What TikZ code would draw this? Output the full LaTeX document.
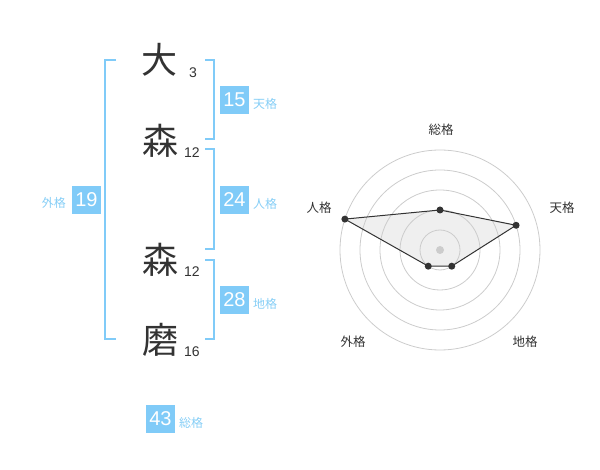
\documentclass[tikz,border=0pt]{standalone}
\usepackage{fontspec}
\setmainfont{Liberation Sans}
\newfontfamily\cjk{Noto Sans CJK JP}
\definecolor{sky}{HTML}{80CBF8}
\definecolor{skytxt}{HTML}{86CEF6}
\definecolor{ink}{HTML}{333333}
\definecolor{gridc}{HTML}{CCCCCC}
\definecolor{polyc}{HTML}{EFEFEF}
\tikzset{
  kanji/.style={inner sep=0pt, text=ink, font=\fontsize{36}{36}\selectfont\cjk},
  strokes/.style={inner sep=0pt, text=ink, font=\fontsize{14}{14}\selectfont},
  numbox/.style={fill=sky, text=white, inner sep=0pt, minimum width=29pt, minimum height=28pt, font=\fontsize{20}{20}\selectfont},
  kaku/.style={inner sep=0pt, text=skytxt, font=\fontsize{12}{12}\selectfont\cjk},
  bracket/.style={draw=sky, line width=2pt},
  ring/.style={draw=gridc, line width=0.8pt},
  edge/.style={draw=ink, line width=1pt},
  dot/.style={circle, fill=ink, inner sep=0pt, minimum size=7pt},
  cdot/.style={circle, fill=gridc, inner sep=0pt, minimum size=8pt},
  axlab/.style={inner sep=0pt, text=ink, font=\fontsize{12.5}{12.5}\selectfont\cjk}
}
\begin{document}
\begin{tikzpicture}[x=1pt,y=-1pt]
\useasboundingbox (0,0) rectangle (600,470);

% name characters
\node[kanji] (k1) at (159,60) {大};
\node[kanji] (k2) at (160,141) {森};
\node[kanji] (k3) at (160,260) {森};
\node[kanji] (k4) at (160,340) {磨};
\node[strokes] (s1) at (193,73) {3};
\node[strokes] (s2) at (192,153) {12};
\node[strokes] (s3) at (192,272) {12};
\node[strokes] (s4) at (192,352) {16};

% brackets
\coordinate (lbT) at (116,60);
\coordinate (lbB) at (116,339);
\draw[bracket] (lbT) -- (105,60) -- (105,339) -- (lbB);
\draw[bracket] (205,60) -- (214,60) -- (214,139) -- (205,139);
\draw[bracket] (205,149) -- (214,149) -- (214,249) -- (205,249);
\draw[bracket] (205,260) -- (214,260) -- (214,339) -- (205,339);

% boxes and labels
\node[numbox] (b15) at (234.5,100) {15};
\node[kaku, anchor=west] (t15) at (253,104) {天格};
\node[numbox] (b24) at (234.5,200) {24};
\node[kaku, anchor=west] (t24) at (253,204) {人格};
\node[numbox] (b28) at (234.5,300) {28};
\node[kaku, anchor=west] (t28) at (253,304) {地格};
\node[numbox] (b19) at (86.5,200) {19};
\node[kaku, anchor=east] (t19) at (66,203) {外格};
\node[numbox] (b43) at (160.5,419) {43};
\node[kaku, anchor=west] (t43) at (179,423) {総格};

% radar chart
\coordinate (c) at (440,250);
\coordinate (p1) at ([shift={(-90:40)}]c);
\coordinate (p2) at ([shift={(-18:80)}]c);
\coordinate (p3) at ([shift={(54:20)}]c);
\coordinate (p4) at ([shift={(126:20)}]c);
\coordinate (p5) at ([shift={(198:100)}]c);
\fill[polyc] (p1) -- (p2) -- (p3) -- (p4) -- (p5) -- cycle;
\foreach \r in {20,40,60,80,100} \draw[ring] (c) circle[radius=\r pt];
\draw[edge] (p1) -- (p2) -- (p3) -- (p4) -- (p5) -- cycle;
\node[cdot] (cc) at (c) {};
\node[dot] (d1) at (p1) {};
\node[dot] (d2) at (p2) {};
\node[dot] (d3) at (p3) {};
\node[dot] (d4) at (p4) {};
\node[dot] (d5) at (p5) {};

\node[axlab] (a1) at (441,130) {総格};
\node[axlab] (a2) at (562,208) {天格};
\node[axlab] (a3) at (525,342) {地格};
\node[axlab] (a4) at (353,342) {外格};
\node[axlab] (a5) at (319,208) {人格};
\end{tikzpicture}
\end{document}
